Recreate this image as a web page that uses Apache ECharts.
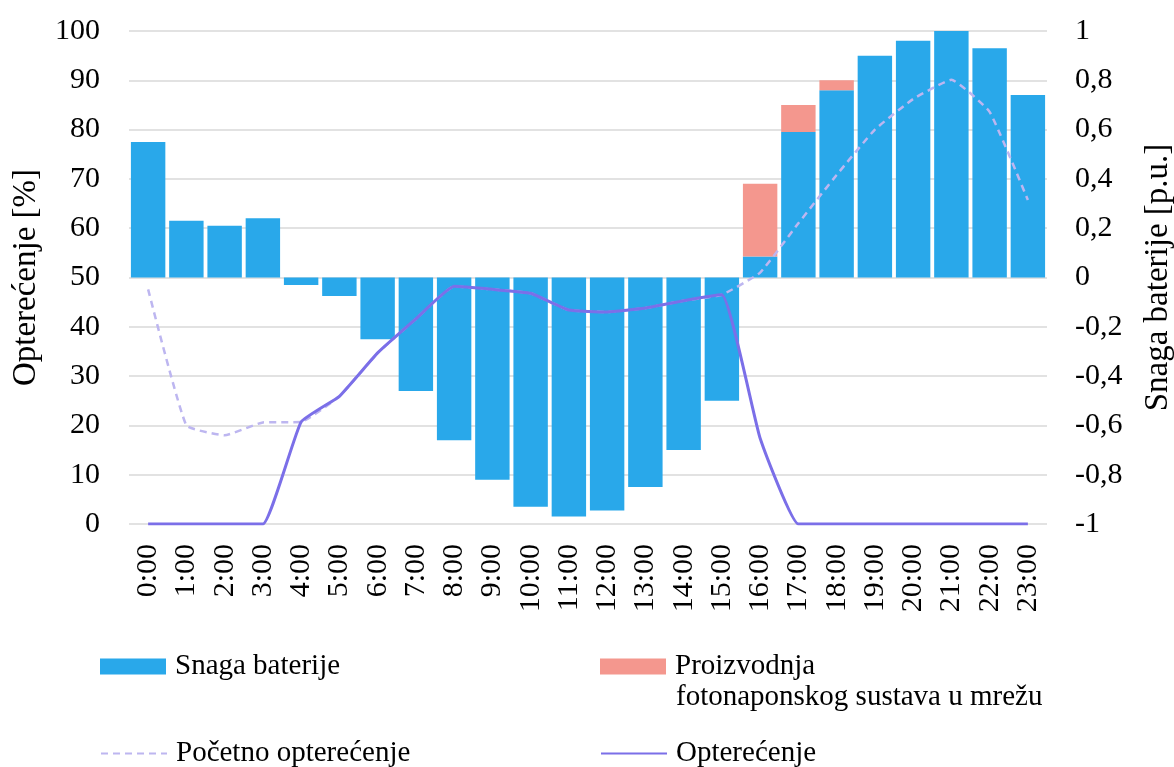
<!DOCTYPE html>
<html>
<head>
<meta charset="utf-8">
<script src="https://cdn.jsdelivr.net/npm/echarts@6/dist/echarts.min.js"></script>
<style>
html,body{margin:0;padding:0;background:#fff;}
#chart{width:1174px;height:767px;}
</style>
</head>
<body>
<div id="chart"></div>
<script>
var hours = ['0:00','1:00','2:00','3:00','4:00','5:00','6:00','7:00','8:00','9:00','10:00','11:00','12:00','13:00','14:00','15:00','16:00','17:00','18:00','19:00','20:00','21:00','22:00','23:00'];
var batteryPower = [0.55, 0.23, 0.21, 0.24, -0.03, -0.075, -0.25, -0.46, -0.66, -0.82, -0.93, -0.97, -0.945, -0.85, -0.70, -0.50, 0.085, 0.59, 0.76, 0.90, 0.96, 1.0, 0.93, 0.74];
var pvExport = [0,0,0,0,0,0,0,0,0,0,0,0,0,0,0,0, 0.295, 0.11, 0.04, 0,0,0,0,0];
var initialLoad = [47.6, 20.0, 18.0, 20.6, 20.7, 25.9, 34.7, 41.6, 48.2, 47.6, 46.8, 43.4, 43.0, 43.8, 45.3, 46.5, 51.0, 61.0, 70.8, 80.0, 86.2, 90.1, 83.6, 65.7];
var load = [0, 0, 0, 0, 20.7, 25.9, 34.7, 41.6, 48.2, 47.6, 46.8, 43.4, 43.0, 43.8, 45.3, 46.5, 17.4, 0, 0, 0, 0, 0, 0, 0];
var leftTicks = {min: 0, max: 100, interval: 10};
var rightTicks = {min: -1, max: 1, interval: 0.2};

var FONT = '"Liberation Serif", "Times New Roman", serif';
var chart = echarts.init(document.getElementById('chart'), null, {renderer: 'canvas'});

function fmtComma(v) {
  var r = Math.round(v * 10) / 10;
  if (Math.abs(r) < 1e-9) r = 0;
  return String(r).replace('.', ',');
}

var legendText = {fontFamily: FONT, fontSize: 29, color: '#000', padding: [0, 0, 0, 4]};

chart.setOption({
  animation: false,
  backgroundColor: '#fff',
  grid: {left: 129, right: 127, top: 31, bottom: 243, containLabel: false, outerBoundsMode: 'none'},
  xAxis: {
    type: 'category',
    data: hours,
    axisLine: {show: false},
    axisTick: {show: false},
    axisLabel: {rotate: 90, margin: 20, fontFamily: FONT, fontSize: 30, color: '#000', interval: 0}
  },
  yAxis: [
    {
      type: 'value',
      min: leftTicks.min, max: leftTicks.max, interval: leftTicks.interval,
      name: 'Opterećenje [%]',
      nameLocation: 'middle',
      nameGap: 86,
      nameTextStyle: {fontFamily: FONT, fontSize: 33, color: '#000'},
      axisLine: {show: false},
      axisTick: {show: false},
      axisLabel: {margin: 29, fontFamily: FONT, fontSize: 30, color: '#000'},
      splitLine: {show: true, lineStyle: {color: '#D9D9D9', width: 1.5}}
    },
    {
      type: 'value',
      position: 'right',
      min: rightTicks.min, max: rightTicks.max, interval: rightTicks.interval,
      name: 'Snaga baterije [p.u.]',
      nameLocation: 'middle',
      nameGap: 95,
      nameTextStyle: {fontFamily: FONT, fontSize: 33, color: '#000'},
      axisLine: {show: false},
      axisTick: {show: false},
      axisLabel: {margin: 28, fontFamily: FONT, fontSize: 30, color: '#000', formatter: fmtComma},
      splitLine: {show: false}
    }
  ],
  legend: [
    {data: ['Snaga baterije'], icon: 'rect', left: 95, top: 647, itemWidth: 66, itemHeight: 16, textStyle: legendText, selectedMode: false},
    {data: ['Proizvodnja fotonaponskog sustava u mrežu'], icon: 'rect', left: 595, top: 647, itemWidth: 66, itemHeight: 16, textStyle: legendText, selectedMode: false, formatter: function(){ return 'Proizvodnja'; }},
    {data: ['Početno opterećenje'], left: 95, top: 734, itemWidth: 66, itemHeight: 16, textStyle: legendText, selectedMode: false, itemStyle: {opacity: 0}},
    {data: ['Opterećenje'], left: 595, top: 734, itemWidth: 66, itemHeight: 16, textStyle: legendText, selectedMode: false, itemStyle: {opacity: 0}}
  ],
  graphic: [
    {type: 'text', left: 676, top: 683, style: {text: 'fotonaponskog sustava u mrežu', font: '29px ' + FONT, fill: '#000'}}
  ],
  series: [
    {
      name: 'Snaga baterije', type: 'bar', yAxisIndex: 1, stack: 'bat',
      data: batteryPower, barWidth: '90%',
      itemStyle: {color: '#29A8EA'}
    },
    {
      name: 'Proizvodnja fotonaponskog sustava u mrežu', type: 'bar', yAxisIndex: 1, stack: 'bat',
      data: pvExport, barWidth: '90%',
      itemStyle: {color: '#F4978E'}
    },
    {
      name: 'Početno opterećenje', type: 'line', yAxisIndex: 0,
      data: initialLoad, symbol: 'none', smooth: 0.12, z: 3,
      lineStyle: {color: '#BDB6F0', width: 2.5, type: [7, 5]},
      itemStyle: {color: '#BDB6F0'}
    },
    {
      name: 'Opterećenje', type: 'line', yAxisIndex: 0,
      data: load, symbol: 'none', smooth: 0.12, z: 4,
      lineStyle: {color: '#7B6FE8', width: 3},
      itemStyle: {color: '#7B6FE8'}
    }
  ]
});
</script>
</body>
</html>
